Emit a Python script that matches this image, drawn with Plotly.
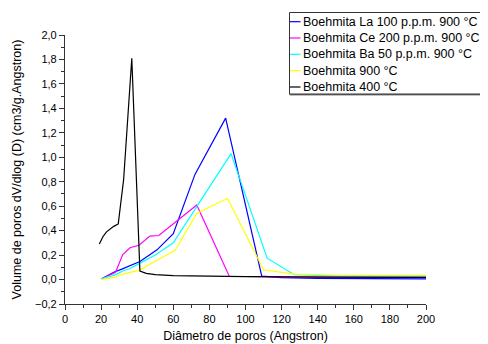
import plotly.graph_objects as go

# ---- data ----
series_names = [
    "Boehmita La 100 p.p.m. 900 °C",
    "Boehmita Ce 200 p.p.m. 900 °C",
    "Boehmita Ba 50 p.p.m. 900 °C",
    "Boehmita 900 °C",
    "Boehmita 400 °C",
]
series_colors = ["#0000ff", "#ff00ff", "#00ffff", "#ffff00", "#000000"]

la_x = [20, 27, 31.5, 36, 41.5, 51, 60, 72, 89, 109, 120, 140, 160, 180, 200]
la_y = [0.005, 0.06, 0.085, 0.115, 0.148, 0.243, 0.375, 0.86, 1.32, 0.028, 0.015, 0.01, 0.008, 0.007, 0.006]

ce_x = [20, 28, 32, 36, 41, 47, 52, 73, 91, 110, 130, 150, 175, 200]
ce_y = [0.005, 0.06, 0.205, 0.26, 0.28, 0.355, 0.36, 0.61, 0.027, 0.022, 0.02, 0.02, 0.02, 0.02]

ba_x = [20, 28, 32, 36, 41, 50, 60, 92, 112, 127, 150, 200]
ba_y = [0.005, 0.04, 0.07, 0.09, 0.13, 0.2, 0.3, 1.03, 0.175, 0.04, 0.03, 0.03]

y900_x = [20, 28, 32, 41, 50, 61, 73, 90, 110, 127, 150, 200]
y900_y = [0.0, 0.02, 0.045, 0.075, 0.15, 0.24, 0.54, 0.665, 0.08, 0.045, 0.035, 0.035]

b400_x = [19, 21, 23, 25, 27, 29.5, 32.5, 37, 41.5, 45, 50, 60, 80, 100, 150, 200]
b400_y = [0.29, 0.35, 0.39, 0.415, 0.435, 0.455, 0.82, 1.81, 0.07, 0.05, 0.04, 0.032, 0.027, 0.024, 0.02, 0.018]

xs = [la_x, ce_x, ba_x, y900_x, b400_x]
ys = [la_y, ce_y, ba_y, y900_y, b400_y]

x_title = "Diâmetro de poros (Angstron)"
y_title = "Volume de poros dV/dlog (D) (cm3/g.Angstron)"

# ---- layout geometry (pixels); page body adds an 8px offset ----
OFF = 8
W, H = 488 - OFF, 344 - OFF
L, R, T, B = 65 - OFF, 62, 35 - OFF, 40
pw, ph = W - L - R, H - T - B

def px_x(p):  # viewport pixel -> paper coordinate
    return (p - OFF - L) / pw

def px_y(p):
    return (H - B - (p - OFF)) / ph

FONT = "Liberation Sans, Arial, sans-serif"

fig = go.Figure()
for n, c, x, y in zip(series_names, series_colors, xs, ys):
    fig.add_trace(go.Scatter(x=x, y=y, mode="lines", name=n,
                             line=dict(color=c, width=1.2), showlegend=False))

# ---- manual legend (Origin style) ----
shapes = []
annotations = []
box_l, box_t, box_b = 289.5, 12.5, 94
shapes.append(dict(type="rect", xref="paper", yref="paper",
                   x0=px_x(box_l), x1=px_x(W + 30), y0=px_y(box_b), y1=px_y(box_t),
                   line=dict(color="#333333", width=1), fillcolor="white", layer="above"))
shapes.append(dict(type="line", xref="paper", yref="paper",
                   x0=px_x(box_l), x1=px_x(W + 30), y0=px_y(box_b + 0.8), y1=px_y(box_b + 0.8),
                   line=dict(color="#333333", width=1), layer="above"))
row_y = [21.7, 38.0, 54.3, 70.6, 87.0]
for n, c, ry in zip(series_names, series_colors, row_y):
    shapes.append(dict(type="line", xref="paper", yref="paper",
                       x0=px_x(290), x1=px_x(300.5), y0=px_y(ry), y1=px_y(ry),
                       line=dict(color=c, width=1.2), layer="above"))
    annotations.append(dict(text=n, xref="paper", yref="paper", x=px_x(300.5), y=px_y(ry),
                            xanchor="left", yanchor="middle", showarrow=False,
                            font=dict(family=FONT, size=12.5, color="black")))

fig.update_layout(
    width=W, height=H,
    margin=dict(l=L, r=R, t=T, b=B, autoexpand=False),
    paper_bgcolor="white", plot_bgcolor="white",
    separators=", ",
    font=dict(family=FONT, size=11, color="black"),
    shapes=shapes, annotations=annotations,
    showlegend=False,
)
fig.update_xaxes(
    range=[0, 200], dtick=20, tick0=0, automargin=False,
    showline=True, linecolor="#333333", linewidth=1.2, mirror=False,
    showgrid=False, zeroline=False,
    ticks="outside", ticklen=5, tickwidth=1, tickcolor="#333333",
    minor=dict(dtick=10, ticks="outside", ticklen=3, tickcolor="#333333", showgrid=False),
    tickfont=dict(size=11),
    title=dict(text=x_title, font=dict(size=12.5), standoff=6),
)
fig.update_yaxes(
    range=[-0.2, 2.0], dtick=0.2, tick0=0, tickformat=".1f", automargin=False,
    showline=True, linecolor="#333333", linewidth=1.2, mirror=False,
    showgrid=False, zeroline=False,
    ticks="outside", ticklen=5, tickwidth=1, tickcolor="#333333",
    minor=dict(dtick=0.1, ticks="outside", ticklen=3, tickcolor="#333333", showgrid=False),
    tickfont=dict(size=11),
    title=dict(text=y_title, font=dict(size=12.5), standoff=10),
)

fig.write_html("out.html")
